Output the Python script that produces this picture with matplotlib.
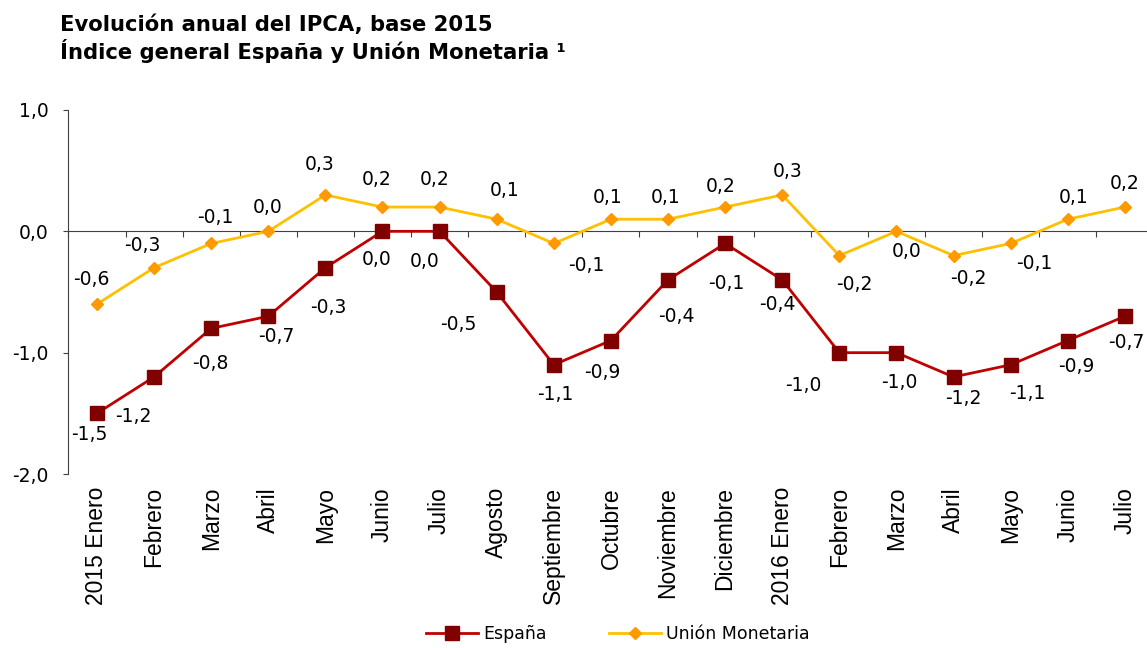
import numpy as np
import matplotlib.pyplot as plt
from matplotlib.ticker import FuncFormatter

meses = ['2015 Enero', 'Febrero', 'Marzo', 'Abril', 'Mayo', 'Junio', 'Julio',
         'Agosto', 'Septiembre', 'Octubre', 'Noviembre', 'Diciembre',
         '2016 Enero', 'Febrero', 'Marzo', 'Abril', 'Mayo', 'Junio', 'Julio']
espana = [-1.5, -1.2, -0.8, -0.7, -0.3, 0.0, 0.0, -0.5, -1.1, -0.9, -0.4, -0.1,
          -0.4, -1.0, -1.0, -1.2, -1.1, -0.9, -0.7]
union = [-0.6, -0.3, -0.1, 0.0, 0.3, 0.2, 0.2, 0.1, -0.1, 0.1, 0.1, 0.2,
         0.3, -0.2, 0.0, -0.2, -0.1, 0.1, 0.2]

# label offsets in pixels (dx right, dy down), as Excel left them
off_es = [(-8, 21), (-21, 40), (-1, 35), (8, 20), (3, 40), (-6, 28), (-15, 30),
          (-38, 33), (2, 30), (-9, 32), (8, 37), (1, 40), (-5, 25), (-36, 33),
          (3, 30), (10, 22), (17, 29), (9, 26), (1, 26)]
off_um = [(-6, -25), (-12, -22), (4, -26), (-1, -24), (-6, -30), (-6, -28),
          (-5, -28), (8, -29), (33, 22), (-3, -22), (-2, -22), (-4, -21),
          (5, -23), (15, 29), (10, 20), (15, 23), (24, 20), (6, -22), (0, -24)]

def coma(v, pos=None):
    return f'{v:.1f}'.replace('.', ',')

W, H = 1147, 648
fig = plt.figure(figsize=(W / 100, H / 100), dpi=100)
ax = fig.add_axes([68.4 / W, 174 / H, 1085 / W, 364 / H])

x = np.arange(len(meses))
ax.plot(x, espana, color='#C00000', lw=2, marker='s', ms=10,
        mfc='#800000', mec='#800000', label='España', zorder=3)
ax.plot(x, union, color='#FFC000', lw=2, marker='D', ms=6.5,
        mfc='#FF9900', mec='#FF9900', label='Unión Monetaria', zorder=3)

for i in range(len(x)):
    ax.annotate(coma(espana[i]), (x[i], espana[i]), xytext=(off_es[i][0], -off_es[i][1]),
                textcoords='offset pixels', ha='center', va='center', fontsize=13.5)
    ax.annotate(coma(union[i]), (x[i], union[i]), xytext=(off_um[i][0], -off_um[i][1]),
                textcoords='offset pixels', ha='center', va='center', fontsize=13.5)

ax.set_xlim(-0.5, len(meses) - 0.5)
ax.set_ylim(-2, 1)
ax.set_yticks([-2, -1, 0, 1])
ax.yaxis.set_major_formatter(FuncFormatter(coma))
ax.tick_params(axis='y', length=3.6, width=0.8, color='#404040', pad=10.5, labelsize=13.5)

ax.spines['top'].set_visible(False)
ax.spines['right'].set_visible(False)
ax.spines['bottom'].set_position(('data', 0))
for s in ['left', 'bottom']:
    ax.spines[s].set_color('#404040')
    ax.spines[s].set_linewidth(0.8)

ax.set_xticks(x)
ax.set_xticklabels(meses, rotation=90, fontfamily='Liberation Sans', fontsize=16.5)
ax.set_xticks(np.arange(-0.5, len(meses), 1), minor=True)
ax.tick_params(axis='x', which='major', length=0, pad=184)
ax.tick_params(axis='x', which='minor', length=4.3, width=0.8, color='#404040')

fig.text(60 / W, 1 - 31 / H, 'Evolución anual del IPCA, base 2015',
         fontsize=15.2, fontweight='bold', va='baseline')
fig.text(60 / W, 1 - 59 / H, 'Índice general España y Unión Monetaria ¹',
         fontsize=15.2, fontweight='bold', va='baseline')

fig.legend(loc='center', bbox_to_anchor=(618 / W, 1 - 634 / H), ncol=2, frameon=False,
           fontsize=12.5, handlelength=3.0, handletextpad=0.3, columnspacing=3.6,
           borderpad=0.2)

fig.savefig('out.png', dpi=100)
